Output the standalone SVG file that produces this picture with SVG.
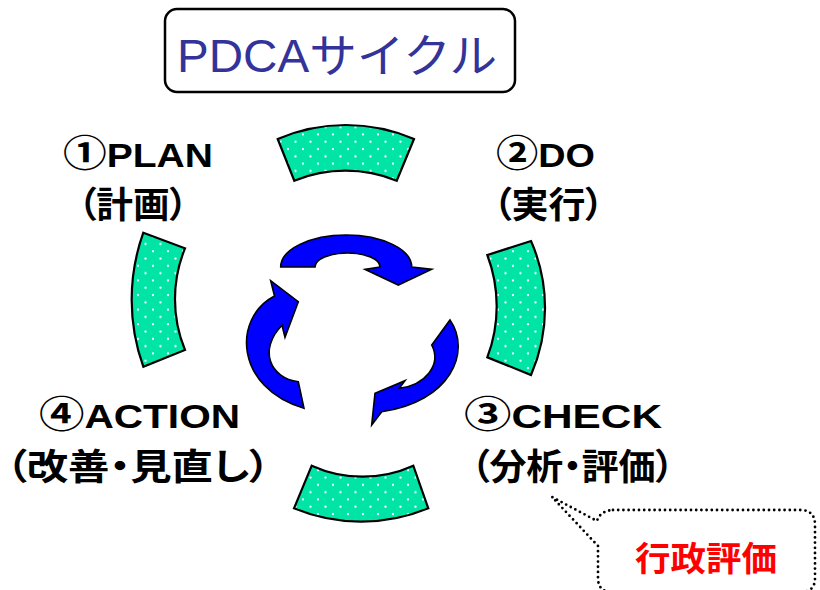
<svg xmlns="http://www.w3.org/2000/svg" width="820" height="590" viewBox="0 0 820 590">
<style>
.lat{font-family:"Liberation Sans","Noto Sans CJK JP",sans-serif;font-weight:bold;font-size:33px;fill:#000}
.cd{font-family:"Noto Sans CJK JP",sans-serif;font-size:37px;font-weight:bold}
.jp{font-family:"Noto Sans CJK JP",sans-serif;font-weight:bold;font-size:36px;fill:#000;font-feature-settings:"palt"}
.seg{fill:url(#dots);stroke:#000;stroke-width:2.2;stroke-linejoin:miter}
.arr{fill:#0000FF;stroke:#000;stroke-width:1.6;stroke-linejoin:miter}
</style>
<defs>
<pattern id="dots" width="15" height="14.6" patternUnits="userSpaceOnUse">
<rect width="15" height="14.6" fill="#00E4A6"/>
<circle cx="3" cy="3" r="1.15" fill="#fff"/>
<circle cx="10.5" cy="10.3" r="1.15" fill="#fff"/>
</pattern>
</defs>
<rect width="820" height="590" fill="#fff"/>
<g id="title">
<rect x="165" y="9" width="350" height="83" rx="12" fill="#fff" stroke="#000" stroke-width="2.5"/>
<text x="177" y="72" textLength="320" lengthAdjust="spacingAndGlyphs" style="font-family:'Liberation Sans','Noto Sans CJK JP',sans-serif;font-size:46px;fill:#333399">PDCAサイクル</text>
</g>
<g id="seg-top"><path class="seg" d="M277.7 139 A173 173 0 0 1 414 139 L396.7 180.7 A136 136 0 0 0 294.3 180.7 Z"/></g>
<g id="seg-right"><path class="seg" d="M487.3 255 L531 241 A167 167 0 0 1 531 375 L487.3 357.3 A144 144 0 0 0 487.3 255 Z"/></g>
<g id="seg-bottom"><path class="seg" d="M311.7 465.7 A123 123 0 0 0 413.3 465.7 L428.3 508.3 A175 175 0 0 1 294 508.3 Z"/></g>
<g id="seg-left"><path class="seg" d="M143.3 232.7 L185 248.3 A134 134 0 0 0 185 350 L143.3 366.7 A199 199 0 0 1 143.3 232.7 Z"/></g>
<g id="connectors">
<path class="arr" d="M280.7 267 A65.5 32 0 0 1 411.7 267 L431.7 269.3 L398.3 285 L365 269.3 L380 267 A32.5 14 0 0 0 315 267 Z"/>
<path class="arr" d="M450 320 C472 352 450 402 381.7 411.7 L371.7 425 L375 393.3 L405 380.7 L399.3 388.3 C425 385 442 365 431.7 345 Z"/>
<path class="arr" d="M304 408.3 C235 388 232 318 274.5 296 L270.7 280.7 L298.3 301.7 L285 337.3 L282 325.3 C258 350 270 378 298.3 381.7 Z"/>
</g>
<g id="plan">
<text class="lat" x="63" y="167" textLength="150" lengthAdjust="spacingAndGlyphs"><tspan class="cd">①</tspan>PLAN</text>
<text class="jp" x="78" y="218" textLength="110" lengthAdjust="spacingAndGlyphs">（計画）</text>
</g>
<g id="do">
<text class="lat" x="496" y="167" textLength="99" lengthAdjust="spacingAndGlyphs"><tspan class="cd">②</tspan>DO</text>
<text class="jp" x="493" y="218" textLength="111" lengthAdjust="spacingAndGlyphs">（実行）</text>
</g>
<g id="check">
<text class="lat" x="464" y="428" textLength="198" lengthAdjust="spacingAndGlyphs"><tspan class="cd">③</tspan>CHECK</text>
<text class="jp" x="471" y="480" textLength="203" lengthAdjust="spacingAndGlyphs">（分析・評価）</text>
</g>
<g id="action">
<text class="lat" x="39" y="428" textLength="201" lengthAdjust="spacingAndGlyphs"><tspan class="cd">④</tspan>ACTION</text>
<text class="jp" x="6" y="480" textLength="264" lengthAdjust="spacingAndGlyphs">（改善・見直し）</text>
</g>
<g id="callout">
<path d="M613 510 L800 510 Q815 510 815 525 L815 578 Q815 592 801 592 L612 592 Q598 592 598 578 L598 546 L552 497 L597 521 Q600 511 613 510 Z" fill="#fff" stroke="#000" stroke-width="2.8" stroke-dasharray="0 5.2" stroke-linecap="round"/>
<text x="635" y="571" textLength="142" lengthAdjust="spacingAndGlyphs" style="font-family:'Noto Sans CJK JP',sans-serif;font-weight:bold;font-size:34px;fill:#FF0000">行政評価</text>
</g>
</svg>
